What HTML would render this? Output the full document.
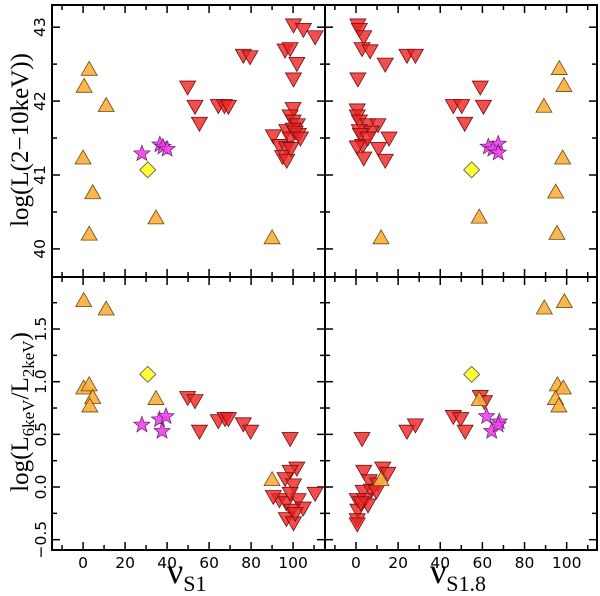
<!DOCTYPE html>
<html><head><meta charset="utf-8"><style>
html,body{margin:0;padding:0;background:#fff;}
svg{display:block;}
.tk{font-family:"DejaVu Sans","Liberation Sans",sans-serif;font-size:15.5px;fill:#000;}
.lab{font-family:"Liberation Serif",serif;fill:#000;}
</style></head><body>
<svg id="chart" width="600" height="596" viewBox="0 0 600 596" xmlns="http://www.w3.org/2000/svg">
<g id="frames"></g>
<g id="marks"></g>
<text class="lab" transform="translate(28,140) rotate(-90)" text-anchor="middle" font-size="25">log(L(2−10keV))</text>
<text class="lab" transform="translate(28,412) rotate(-90)" text-anchor="middle" font-size="25">log(L<tspan font-size="17" dy="6">6keV</tspan><tspan dy="-6">/L</tspan><tspan font-size="17" dy="6">2keV</tspan><tspan dy="-6">)</tspan></text>
<text class="lab" x="167" y="583" font-size="36">ν<tspan font-size="22" dy="8">S1</tspan></text>
<text class="lab" x="430" y="583" font-size="36">ν<tspan font-size="22" dy="8">S1.8</tspan></text>
</svg>
<script>
// ---- data ----
const tlTriX=[2.9,0.5,11,0,4.6,2.9,34.7,90];
const tlTriY=[42.43,42.2,41.94,41.23,40.76,40.2,40.42,40.15];
const tlDiaX=[30.8]; const tlDiaY=[41.07];
const tlStarX=[28,36.6,38,40]; const tlStarY=[41.29,41.41,41.38,41.35];
const tlRedX=[49.8,53.3,55.4,64.4,67.3,69.2,76.3,79.5,90.6,96.2,98.6,100.2,104.9,110.5,101.8,100.2,100,98.6,100,102,97,100,102.5,98.6,93.5,96.8,95,97,99,101,103.5];
const tlRedY=[42.19,41.93,41.7,41.94,41.94,41.93,42.62,42.6,41.53,42.69,42.71,43.03,42.97,42.87,42.51,42.3,41.9,41.8,41.73,41.68,41.6,41.62,41.55,41.5,41.4,41.37,41.25,41.2,41.36,41.58,41.5];

const trTriX=[96.5,98.7,89.2,98.1,94.8,95.4,58.5,11.9];
const trTriY=[42.44,42.21,41.93,41.23,40.77,40.21,40.43,40.15];
const trDiaX=[54.9]; const trDiaY=[41.07];
const trStarX=[62.8,67.5,65,67.5]; const trStarY=[41.38,41.42,41.35,41.3];
const trRedX=[0.9,1.6,3.7,2.9,6.7,13.9,24.2,28.2,0.9,59,46.2,50.2,60.5,51.6,0.6,0.6,1.6,5.6,10.4,1.6,7.2,2.1,15.7,3.2,0.6,10.7,3.7,13.9,5.6];
const trRedY=[43.03,42.97,42.87,42.71,42.68,42.5,42.62,42.62,42.3,42.19,41.94,41.94,41.93,41.7,41.88,41.8,41.73,41.68,41.68,41.6,41.58,41.55,41.5,41.4,41.38,41.36,41.23,41.2,41.5];

const blTriX=[0.3,11,0.3,2.9,4.6,3.2,34.7,90];
const blTriY=[1.77,1.69,0.94,0.97,0.85,0.77,0.84,0.07];
const blDiaX=[30.8]; const blDiaY=[1.07];
const blStarX=[28,36.4,39.5,37.6]; const blStarY=[0.59,0.64,0.67,0.53];
const blRedX=[49.8,53.3,55.4,64.4,67.6,69.2,76.3,79.8,98.6,101.8,98.6,96.2,100.2,110.5,93.5,90.6,96.8,102.4,104.8,99.4,96.8,100.2,98.6,101];
const blRedY=[0.85,0.82,0.53,0.63,0.65,0.65,0.6,0.53,0.46,0.18,0.15,0.08,0.02,-0.06,-0.12,-0.09,-0.15,-0.12,-0.2,-0.22,-0.3,-0.34,-0.06,-0.25];

const brTriX=[98.9,89.4,95.6,98.4,94.7,96.3,58.5,11.9];
const brTriY=[1.76,1.7,0.97,0.94,0.84,0.77,0.83,0.07];
const brDiaX=[54.9]; const brDiaY=[1.07];
const brStarX=[62,68,64.4,67.5]; const brStarY=[0.67,0.62,0.53,0.59];
const brRedX=[59,61,46.2,49.7,51.8,24.2,28.2,2.9,12.7,15.1,3.7,6.3,10.3,3.4,7.3,9.7,0.6,4.1,5.7,0.9,0.6,0.6,2.3];
const brRedY=[0.86,0.81,0.67,0.65,0.53,0.53,0.59,0.46,0.18,0.13,0.15,0.06,0.03,-0.04,-0.03,-0.04,-0.12,-0.12,-0.17,-0.22,-0.31,-0.35,-0.15];

const xTicks=[0,20,40,60,80,100];
const topYTicks=[40,41,42,43];
const botYTicks=[-0.5,0.0,0.5,1.0,1.5];
const botYLabels=["−0.5","0.0","0.5","1.0","1.5"];

// ---- layout ----
const NS="http://www.w3.org/2000/svg";
const panels={
 tl:{x0:52,x1:325,y0:5,y1:277,xmin:-14.8,xmax:115.2,ymin:39.62,ymax:43.3},
 tr:{x0:325,x1:597,y0:5,y1:277,xmin:-14.7,xmax:114.4,ymin:39.62,ymax:43.3},
 bl:{x0:52,x1:325,y0:277,y1:550,xmin:-14.8,xmax:115.2,ymin:-0.598,ymax:1.994},
 br:{x0:325,x1:597,y0:277,y1:550,xmin:-14.7,xmax:114.4,ymin:-0.598,ymax:1.994}
};
function sx(p,v){return p.x0+(v-p.xmin)/(p.xmax-p.xmin)*(p.x1-p.x0);}
function sy(p,v){return p.y1-(v-p.ymin)/(p.ymax-p.ymin)*(p.y1-p.y0);}
function mk(tag,at,parent){const e=document.createElementNS(NS,tag);for(const k in at)e.setAttribute(k,at[k]);parent.appendChild(e);return e;}
const frames=document.getElementById('frames'), marks=document.getElementById('marks');

for(const key in panels){
 const p=panels[key];
 const r=mk('rect',{x:p.x0,y:p.y0,width:p.x1-p.x0,height:p.y1-p.y0,fill:'none',stroke:'#000','stroke-width':2},frames);
 
 
 for(let v=-10;v<=110;v+=10){
  const X=sx(p,v), L=(v%20===0)?8:5;
  mk('line',{x1:X,x2:X,y1:p.y1,y2:p.y1-L,stroke:'#000','stroke-width':1.5},frames);
  mk('line',{x1:X,x2:X,y1:p.y0,y2:p.y0+L,stroke:'#000','stroke-width':1.5},frames);
 }
 const isTop=key[0]==='t';
 const step=isTop?0.5:0.25, lo=isTop?39.5:-0.5, hi=isTop?43.5:2.0;
 for(let v=lo;v<=hi+1e-9;v+=step){
  if(v<p.ymin||v>p.ymax)continue;
  const Y=sy(p,v), major=isTop?(Math.abs(v-Math.round(v))<1e-6):(Math.abs(v*2-Math.round(v*2))<1e-6);
  const L=major?8:5;
  mk('line',{x1:p.x0,x2:p.x0+L,y1:Y,y2:Y,stroke:'#000','stroke-width':1.5},frames);
  mk('line',{x1:p.x1,x2:p.x1-L,y1:Y,y2:Y,stroke:'#000','stroke-width':1.5},frames);
 }
}
['bl','br'].forEach(k=>{const p=panels[k];xTicks.forEach(v=>{
 const t=mk('text',{x:sx(p,v),y:568,'text-anchor':'middle',class:'tk'},frames);t.textContent=String(v);
 
 
});});
topYTicks.forEach(v=>{const p=panels.tl;const Y=sy(p,v);
 const t=mk('text',{transform:`translate(45,${Y}) rotate(-90)`,'text-anchor':'middle',class:'tk'},frames);t.textContent=String(v);
 
 
});
botYTicks.forEach((v,i)=>{const p=panels.bl;const Y=sy(p,v);
 const t=mk('text',{transform:`translate(46,${Y}) rotate(-90)`,'text-anchor':'middle',class:'tk'},frames);t.textContent=botYLabels[i];
 
 
});

function tri(p,xs,ys,name){xs.forEach((x,i)=>{const X=sx(p,x),Y=sy(p,ys[i]);
 const e=mk('polygon',{points:`${X-8},${Y+6} ${X+8},${Y+6} ${X},${Y-8}`,fill:'#fbb040',stroke:'#6b4a10','stroke-width':0.8,'fill-opacity':0.92},marks);
 
 });}
function dtri(p,xs,ys,name){xs.forEach((x,i)=>{const X=sx(p,x),Y=sy(p,ys[i]);
 const e=mk('polygon',{points:`${X-8},${Y-6} ${X+8},${Y-6} ${X},${Y+8}`,fill:'#ee2222','fill-opacity':0.8,stroke:'#701010','stroke-width':0.8},marks);
 
 });}
function dia(p,xs,ys,name){xs.forEach((x,i)=>{const X=sx(p,x),Y=sy(p,ys[i]);
 const e=mk('polygon',{points:`${X},${Y-8} ${X+8},${Y} ${X},${Y+8} ${X-8},${Y}`,fill:'#ffff33',stroke:'#555','stroke-width':0.8},marks);
 
 });}
function star(p,xs,ys,name){xs.forEach((x,i)=>{const X=sx(p,x),Y=sy(p,ys[i]);let pts=[];
 for(let k=0;k<10;k++){const r=k%2?3.6:8.5,a=-Math.PI/2+k*Math.PI/5;pts.push((X+r*Math.cos(a)).toFixed(1)+','+(Y+r*Math.sin(a)).toFixed(1));}
 const e=mk('polygon',{points:pts.join(' '),fill:'#f040f0','fill-opacity':0.9,stroke:'#602060','stroke-width':0.7},marks);
 
 });}
const P=panels;
dtri(P.tl,tlRedX,tlRedY,'red-point'); tri(P.tl,tlTriX,tlTriY,'orange-point'); star(P.tl,tlStarX,tlStarY,'magenta-star'); dia(P.tl,tlDiaX,tlDiaY,'yellow-diamond');
dtri(P.tr,trRedX,trRedY,'red-point'); tri(P.tr,trTriX,trTriY,'orange-point'); star(P.tr,trStarX,trStarY,'magenta-star'); dia(P.tr,trDiaX,trDiaY,'yellow-diamond');
dtri(P.bl,blRedX,blRedY,'red-point'); tri(P.bl,blTriX,blTriY,'orange-point'); star(P.bl,blStarX,blStarY,'magenta-star'); dia(P.bl,blDiaX,blDiaY,'yellow-diamond');
dtri(P.br,brRedX,brRedY,'red-point'); tri(P.br,brTriX,brTriY,'orange-point'); star(P.br,brStarX,brStarY,'magenta-star'); dia(P.br,brDiaX,brDiaY,'yellow-diamond');
</script>
</body></html>
